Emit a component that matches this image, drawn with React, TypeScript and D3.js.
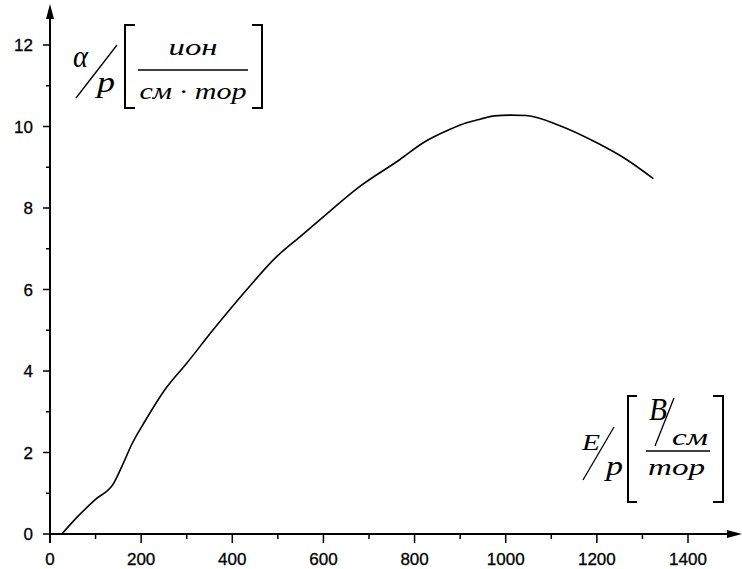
import { useEffect, useRef } from 'react';
import * as d3 from 'd3';

// E/p, В/см·тор
const fieldValues = [26, 60, 100, 140, 161, 179, 208, 252, 300, 358, 432, 494, 549, 592, 680, 768, 819, 878, 914, 944, 975, 1010, 1045, 1119, 1200, 1265, 1324];
// α/p, ион/(см·тор)
const alphaValues = [0, 0.42, 0.85, 1.25, 1.74, 2.19, 2.76, 3.54, 4.19, 5.01, 6.0, 6.77, 7.3, 7.71, 8.53, 9.19, 9.6, 9.93, 10.09, 10.18, 10.26, 10.28, 10.27, 10.02, 9.6, 9.19, 8.72];

const xTicks = [0, 200, 400, 600, 800, 1000, 1200, 1400];
const xMinorTicks = [100, 300, 500, 700, 900, 1100, 1300];
const yTicks = [0, 2, 4, 6, 8, 10, 12];
const yMinorTicks = [1, 3, 5, 7, 9, 11];

const App = () => {
    const svgRef = useRef<SVGSVGElement>(null);

    useEffect(() => {
        const width = 742;
        const height = 569;

        const svg = d3.select(svgRef.current);
        svg.selectAll('*').remove();
        svg.attr('width', width).attr('height', height);

        const x = d3.scaleLinear().domain([0, 1400]).range([50, 688]);
        const y = d3.scaleLinear().domain([0, 12]).range([534, 45]);

        const x0 = x(0);
        const y0 = y(0);

        // оси
        svg.append('line')
            .attr('x1', x0).attr('x2', 734)
            .attr('y1', y0).attr('y2', y0)
            .attr('stroke', '#000').attr('stroke-width', 2);
        svg.append('line')
            .attr('x1', x0).attr('x2', x0)
            .attr('y1', y0 + 9).attr('y2', 12)
            .attr('stroke', '#000').attr('stroke-width', 2);

        // стрелки
        svg.append('path')
            .attr('d', `M${x0 - 4},19 L${x0},4 L${x0 + 4},19 Z`)
            .attr('fill', '#000');
        svg.append('path')
            .attr('d', `M727,${y0 - 4} L742,${y0} L727,${y0 + 4} Z`)
            .attr('fill', '#000');

        const tickFont = '"Liberation Sans", Arial, sans-serif';

        // деления по X
        svg.selectAll('.xtick')
            .data(xTicks)
            .enter().append('line')
            .attr('x1', d => x(d)).attr('x2', d => x(d))
            .attr('y1', y0).attr('y2', y0 + 9)
            .attr('stroke', '#000').attr('stroke-width', 1.5);
        svg.selectAll('.xminor')
            .data(xMinorTicks)
            .enter().append('line')
            .attr('x1', d => x(d)).attr('x2', d => x(d))
            .attr('y1', y0).attr('y2', y0 + 5)
            .attr('stroke', '#000').attr('stroke-width', 1.5);
        svg.selectAll('.xlabel')
            .data(xTicks)
            .enter().append('text')
            .attr('x', d => x(d))
            .attr('y', 565)
            .attr('text-anchor', 'middle')
            .style('font-family', tickFont)
            .style('font-size', '17px')
            .style('stroke', '#000')
            .style('stroke-width', '0.3px')
            .text(d => d);

        // деления по Y
        svg.selectAll('.ytick')
            .data(yTicks)
            .enter().append('line')
            .attr('x1', x0 - 7).attr('x2', x0)
            .attr('y1', d => y(d)).attr('y2', d => y(d))
            .attr('stroke', '#000').attr('stroke-width', 1.5);
        svg.selectAll('.yminor')
            .data(yMinorTicks)
            .enter().append('line')
            .attr('x1', x0 - 4).attr('x2', x0)
            .attr('y1', d => y(d)).attr('y2', d => y(d))
            .attr('stroke', '#000').attr('stroke-width', 1.5);
        svg.selectAll('.ylabel')
            .data(yTicks)
            .enter().append('text')
            .attr('x', 33)
            .attr('y', d => y(d) + 6)
            .attr('text-anchor', 'end')
            .style('font-family', tickFont)
            .style('font-size', '17px')
            .style('stroke', '#000')
            .style('stroke-width', '0.3px')
            .text(d => d);

        // кривая
        const points: [number, number][] = fieldValues.map((v, i) => [v, alphaValues[i]]);
        const line = d3.line<[number, number]>()
            .x(d => x(d[0]))
            .y(d => y(d[1]))
            .curve(d3.curveMonotoneX);
        svg.append('path')
            .datum(points)
            .attr('d', line)
            .attr('fill', 'none')
            .attr('stroke', '#000')
            .attr('stroke-width', 1.6);

        // подписи
        const serif = '"Liberation Serif", "Times New Roman", serif';
        const label = (tx: number, ty: number, txt: string, size: number, len?: number, anchor = 'start') => {
            const t = svg.append('text')
                .attr('x', tx).attr('y', ty)
                .attr('text-anchor', anchor)
                .style('font-family', serif)
                .style('font-style', 'italic')
                .style('font-size', `${size}px`)
                .text(txt);
            if (len) t.attr('textLength', len).attr('lengthAdjust', 'spacingAndGlyphs');
        };
        const stroke = (d: string, w = 1.5) => {
            svg.append('path').attr('d', d)
                .attr('fill', 'none').attr('stroke', '#000').attr('stroke-width', w);
        };

        // α/p [ион / см·тор]
        label(73, 67, 'α', 32, 15);
        stroke('M76,98 L117,45', 1.3);
        label(97, 92, 'p', 30, 18);
        stroke('M135,25 H125 V108 H135', 2);
        stroke('M252,25 H262 V108 H252', 2);
        stroke('M138,70 H248', 1.5);
        label(193, 55, 'ион', 24, 49, 'middle');
        label(193, 99, 'см · тор', 24, 107, 'middle');

        // E/p [В/см / тор]
        label(582, 450, 'E', 24, 18);
        stroke('M583,480 L614,427', 1.3);
        label(606, 475, 'p', 28, 17);
        stroke('M637,396 H628 V502 H637', 2);
        stroke('M713,396 H723 V502 H713', 2);
        label(649, 420, 'В', 32, 18);
        stroke('M655,446 L674,398', 1.3);
        label(672, 445, 'см', 24, 36);
        stroke('M646,451 H710', 1.5);
        label(648, 475, 'тор', 24, 57);
    }, []);

    return (
        <svg ref={svgRef} style={{ position: 'absolute', left: 0, top: 0, background: '#fff' }}></svg>
    );
};

export default App;
